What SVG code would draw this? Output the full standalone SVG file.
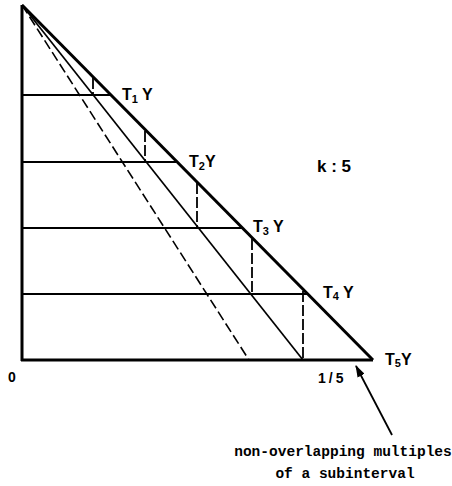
<svg xmlns="http://www.w3.org/2000/svg" width="452" height="486" viewBox="0 0 452 486">
<style>
.lbl{font-family:"Liberation Sans",Arial,sans-serif;font-weight:bold;font-size:16px;fill:#000}
.sub{font-size:11px}
.note{font-family:"Liberation Mono","Courier New",monospace;font-weight:bold;font-size:14.5px;fill:#000}
.thick{stroke:#000;stroke-width:3;fill:none}
.mid{stroke:#000;stroke-width:2;fill:none}
.thin{stroke:#000;stroke-width:1.7;fill:none}
.dash{stroke:#000;stroke-width:1.6;fill:none;stroke-dasharray:10 4}
.vdash{stroke:#000;stroke-width:1.8;fill:none;stroke-dasharray:11 3}
</style>
<defs>
<marker id="ah" markerWidth="12" markerHeight="8" refX="11" refY="4" orient="auto" markerUnits="userSpaceOnUse">
<path d="M0,0 L12,4 L0,8 Z" fill="#000"/>
</marker>
</defs>
<g id="connectors">
<line class="mid" x1="22" y1="95" x2="110" y2="95"/>
<line class="mid" x1="22" y1="162" x2="176" y2="162"/>
<line class="mid" x1="22" y1="228" x2="242" y2="228"/>
<line class="mid" x1="22" y1="294" x2="307" y2="294"/>
<line class="dash" x1="22" y1="5" x2="249" y2="360"/>
<line class="thin" x1="22" y1="5" x2="303" y2="360"/>
<line class="vdash" x1="93" y1="78" x2="93" y2="95"/>
<line class="vdash" x1="145" y1="131" x2="145" y2="162"/>
<line class="vdash" x1="197" y1="183" x2="197" y2="228"/>
<line class="vdash" x1="252" y1="239" x2="252" y2="294"/>
<line class="vdash" x1="303" y1="291" x2="303" y2="360"/>
<line class="thick" x1="22" y1="5" x2="22" y2="361"/>
<line class="thick" x1="21" y1="360" x2="373" y2="360"/>
<line class="thick" x1="22" y1="5" x2="373" y2="360"/>
<line stroke="#000" stroke-width="1.8" x1="392" y1="435" x2="356" y2="366" marker-end="url(#ah)"/>
</g>
<g id="label-T1Y"><text class="lbl" x="122" y="100">T<tspan class="sub" dy="3">1</tspan><tspan dy="-3"> Y</tspan></text></g>
<g id="label-T2Y"><text class="lbl" x="189" y="167">T<tspan class="sub" dy="3">2</tspan><tspan dy="-3">Y</tspan></text></g>
<g id="label-T3Y"><text class="lbl" x="253" y="232">T<tspan class="sub" dy="3">3</tspan><tspan dy="-3"> Y</tspan></text></g>
<g id="label-T4Y"><text class="lbl" x="323" y="298">T<tspan class="sub" dy="2">4</tspan><tspan dy="-2"> Y</tspan></text></g>
<g id="label-T5Y"><text class="lbl" x="385" y="365">T<tspan class="sub" dy="2">5</tspan><tspan dy="-2">Y</tspan></text></g>
<g id="label-k"><text class="lbl" x="317" y="172" style="font-size:17px">k : 5</text></g>
<g id="label-0"><text class="lbl" x="8" y="382" style="font-size:14px">0</text></g>
<g id="label-1-5"><text class="lbl" x="318" y="383" style="font-size:14px;letter-spacing:3px">1/5</text></g>
<g id="note">
<text class="note" x="343" y="456" text-anchor="middle">non-overlapping multiples</text>
<text class="note" x="345" y="478" text-anchor="middle">of a subinterval</text>
</g>
</svg>
